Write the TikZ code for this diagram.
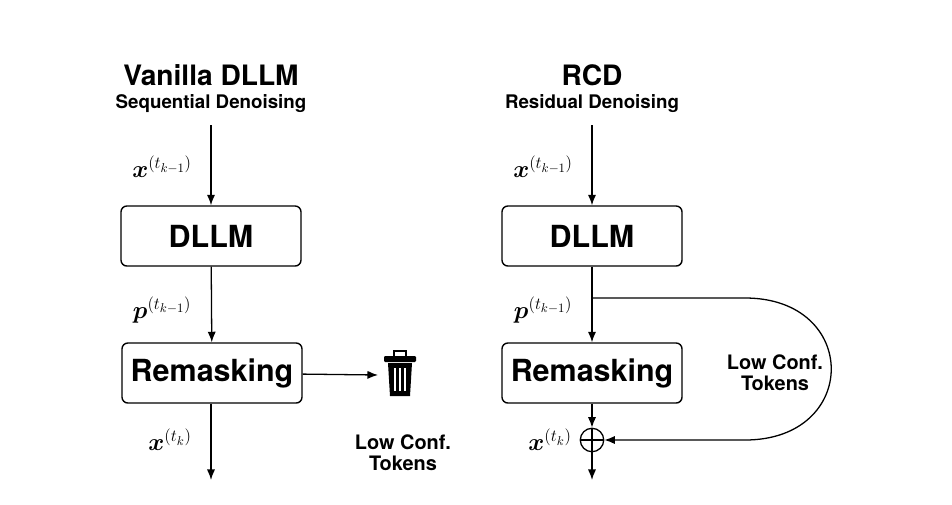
\documentclass[tikz,border=0pt]{standalone}
\usepackage{fontspec}
\usepackage{amsmath,bm}
\setmainfont{TeX Gyre Heros}
\usetikzlibrary{arrows.meta,calc}

\tikzset{
  blk/.style={draw, line width=1.2pt, rounded corners=5pt, minimum width=54mm, minimum height=18mm, font=\fontsize{26}{30}\selectfont\bfseries},
  flow/.style={line width=1.1pt, -{Latex[length=9pt,width=7pt]}},
  ttl/.style={font=\fontsize{24}{28}\selectfont\bfseries},
  subttl/.style={font=\fontsize{16}{19}\selectfont\bfseries},
  lbl/.style={font=\fontsize{17}{20}\selectfont\bfseries, align=center},
  mth/.style={font=\fontsize{22}{26}\selectfont}
}

\begin{document}
\begin{tikzpicture}[x=0.3mm, y=-0.3mm]
\useasboundingbox (0,0) rectangle (952,504);

% left: vanilla DLLM
\node[ttl] (vtitle) at (211,75) {Vanilla DLLM};
\node[subttl] (vsub) at (211,104) {Sequential Denoising};
\coordinate (vin) at (211,125);
\node[blk] (vdllm) at (211,236) {DLLM};
\node[blk] (vremask) at (212,373) {Remasking};
\coordinate (vout) at (211,480);
\draw[flow] (vin) -- (vdllm);
\draw[flow] (vdllm) -- (vremask);
\draw[flow] (vremask.south -| vout) -- (vout);
\node[mth] (vx) at (162,167) {$\bm{x}^{(t_{k-1})}$};
\node[mth] (vp) at (162,310) {$\bm{p}^{(t_{k-1})}$};
\node[mth] (vxk) at (170,440) {$\bm{x}^{(t_k)}$};

% trash can
\coordinate (bin) at (400,375);
\draw[flow] (vremask) -- (378,375);
\fill ($(bin)+(-12,-12)$) -- ($(bin)+(12,-12)$) -- ($(bin)+(10,21)$) -- ($(bin)+(-10,21)$) -- cycle;
\fill[rounded corners=1pt] ($(bin)+(-16,-19)$) rectangle ($(bin)+(16,-13)$);
\draw[line width=1.6pt] ($(bin)+(-6,-19)$) -- ($(bin)+(-6,-24)$) -- ($(bin)+(6,-24)$) -- ($(bin)+(6,-19)$);
\foreach \dx in {-5,0,5}
  \draw[white, line width=1.6pt] ($(bin)+(\dx,-7)$) -- ($(bin)+(\dx,16)$);
\node[lbl] (vlow) at (403,453) {Low Conf.\\[-2pt]Tokens};

% right: RCD
\node[ttl] (rtitle) at (592,75) {RCD};
\node[subttl] (rsub) at (592,104) {Residual Denoising};
\coordinate (rin) at (592,125);
\node[blk] (rdllm) at (592,236) {DLLM};
\node[blk] (rremask) at (592,373) {Remasking};
\node[draw, circle, line width=1.1pt, minimum size=20pt, inner sep=0pt,
  path picture={\draw[line width=1.1pt] (path picture bounding box.north) -- (path picture bounding box.south)
  (path picture bounding box.west) -- (path picture bounding box.east);}] (plus) at (592,440) {};
\coordinate (rout) at (592,480);
\coordinate (split) at (592,298);
\draw[flow] (rin) -- (rdllm);
\draw[flow] (rdllm) -- (rremask);
\draw[flow] (rremask) -- (plus);
\draw[flow] (plus) -- (rout);
\draw[flow] (split) -- (745,298) .. controls (860,298) and (860,440) .. (745,440) -- (plus);
\node[mth] (rx) at (543,167) {$\bm{x}^{(t_{k-1})}$};
\node[mth] (rp) at (543,310) {$\bm{p}^{(t_{k-1})}$};
\node[mth] (rxk) at (550,440) {$\bm{x}^{(t_k)}$};
\node[lbl] (rlow) at (775,373) {Low Conf.\\[-2pt]Tokens};
\end{tikzpicture}
\end{document}
